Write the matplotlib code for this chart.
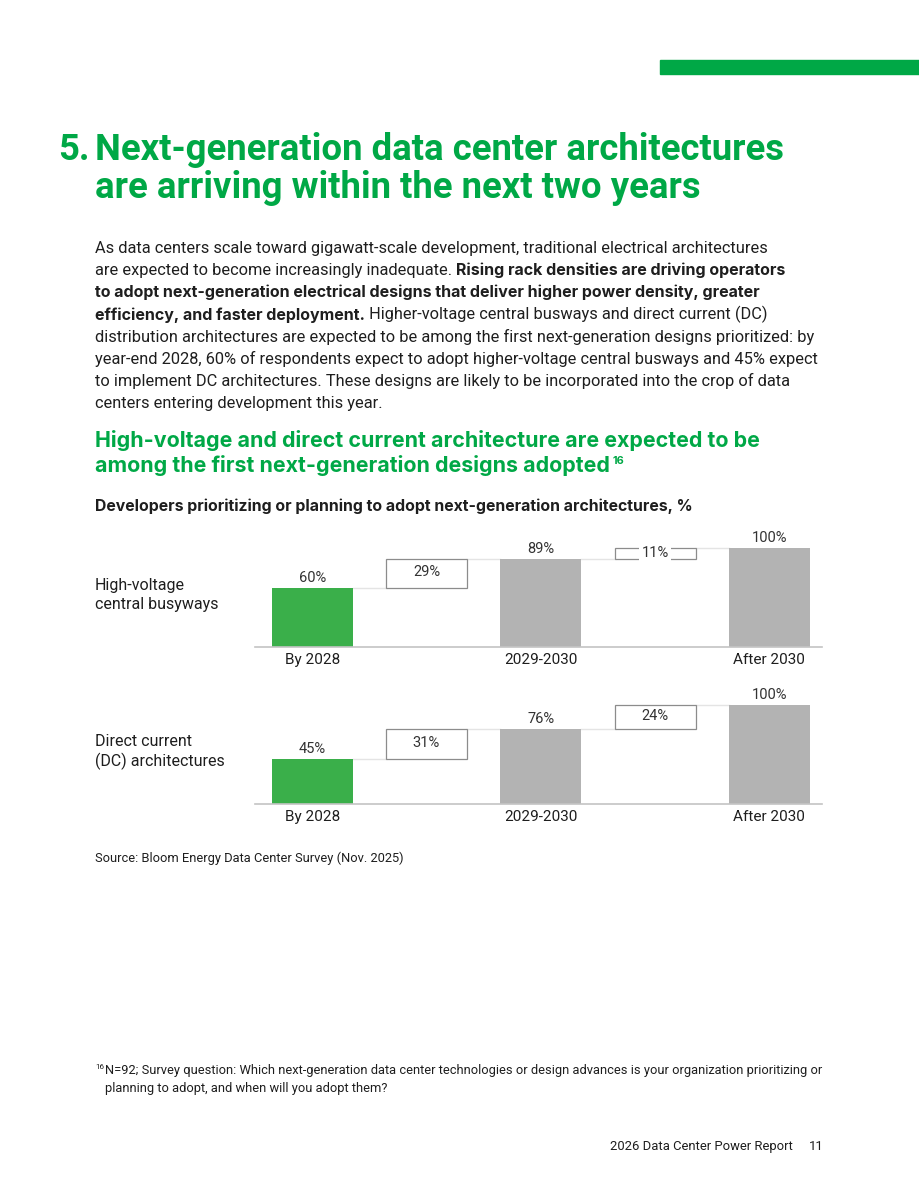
import matplotlib
matplotlib.use("Agg")
import matplotlib.pyplot as plt
from matplotlib.patches import Rectangle
from matplotlib.text import Annotation

plt.rcParams['font.family'] = ['Roboto', 'DejaVu Sans']

# ---- DATA
categories = ["By 2028", "2029-2030", "After 2030"]
row_labels = ["High-voltage\ncentral busyways", "Direct current\n(DC) architectures"]
hv_totals = [60, 89, 100]
dc_totals = [45, 76, 100]
hv_steps = [29, 11]
dc_steps = [31, 24]

GREEN = "#00a846"
BAR_GREEN = "#3aaf4a"
BAR_GRAY = "#b3b3b3"
TEXT = "#1e1e1e"
BOLD_FONT = ['Inter', 'DejaVu Sans']

W, H = 920, 1191
fig = plt.figure(figsize=(W / 100, H / 100), dpi=100)


def fx(px):
    return px / W


def fy(py):
    return 1 - py / H


# top right accent bar
fig.patches.append(Rectangle((fx(660), fy(74)), fx(920) - fx(660), 14 / H,
                             transform=fig.transFigure, color="#00a846", zorder=0))

# ---- TITLE
title_kw = dict(fontsize=26.3, fontweight="bold", color=GREEN, va="baseline")
fig.text(fx(58), fy(160), "5.", **title_kw)
fig.text(fx(95), fy(160), "Next-generation data center architectures", **title_kw)
fig.text(fx(95), fy(198), "are arriving within the next two years", **title_kw)

# ---- PARAGRAPH (segments: text, bold)
paragraph = [
    [("As data centers scale toward gigawatt-scale development, traditional electrical architectures", False)],
    [("are expected to become increasingly inadequate. ", False), ("Rising rack densities are driving operators", True)],
    [("to adopt next-generation electrical designs that deliver higher power density, greater", True)],
    [("efficiency, and faster deployment.", True), (" Higher-voltage central busways and direct current (DC)", False)],
    [("distribution architectures are expected to be among the first next-generation designs prioritized: by", False)],
    [("year-end 2028, 60% of respondents expect to adopt higher-voltage central busways and 45% expect", False)],
    [("to implement DC architectures. These designs are likely to be incorporated into the crop of data", False)],
    [("centers entering development this year.", False)],
]
y0 = 253
for i, line in enumerate(paragraph):
    last = None
    for seg, bold in line:
        if bold:
            kw = dict(fontsize=11.5, color=TEXT, fontweight="bold", family=BOLD_FONT)
        else:
            kw = dict(fontsize=11.75, color=TEXT)
        if last is None:
            last = fig.text(fx(95), fy(y0 + i * 22.2), seg, va="baseline", **kw)
        else:
            last = fig.add_artist(Annotation(seg, xy=(1, 0), xycoords=last,
                                             va="bottom", ha="left", **kw))

# ---- CHART SUBTITLE
sub_kw = dict(fontsize=15.4, fontweight="bold", color=GREEN, va="baseline", family=BOLD_FONT)
fig.text(fx(95), fy(447), "High-voltage and direct current architecture are expected to be", **sub_kw)
sub2 = fig.text(fx(95), fy(472), "among the first next-generation designs adopted", **sub_kw)
fig.add_artist(Annotation("16", xy=(1, 1), xycoords=sub2, xytext=(2, -1),
                          textcoords="offset points", va="top", ha="left",
                          fontsize=7.8, fontweight="bold", color=GREEN, family=BOLD_FONT))
fig.text(fx(95), fy(511), "Developers prioritizing or planning to adopt next-generation architectures, %",
         fontsize=11.4, fontweight="bold", color=TEXT, va="baseline", family=BOLD_FONT)


# ---- WATERFALL PANELS
def panel(baseline_px, totals, steps, label):
    left, right = 255, 822
    ax = fig.add_axes([fx(left), fy(baseline_px), (right - left) / W, 109 / H])
    ax.set_xlim(-0.5, 4.46)
    ax.set_ylim(0, 110)
    xs_bar = [0, 2, 4]
    colors = [BAR_GREEN, BAR_GRAY, BAR_GRAY]
    ax.bar(xs_bar, totals, width=0.71, color=colors, zorder=2)
    for x, v in zip(xs_bar, totals):
        ax.text(x, v + 3, f"{v}%", ha="center", va="bottom", fontsize=10.5, color="#333333")
    for k, s in enumerate(steps):
        x = 2 * k + 1
        base = totals[k]
        ax.bar(x, s, bottom=base, width=0.71, facecolor="white", edgecolor="#8c8c8c",
               linewidth=0.9, zorder=2)
        # connector lines
        ax.plot([x - 1 + 0.355, x - 0.355], [base, base], color="#e4e4e4", lw=1, zorder=1)
        ax.plot([x + 0.355, x + 1 - 0.355], [base + s, base + s], color="#e4e4e4", lw=1, zorder=1)
        if s < 15:
            ax.text(x, base + s / 2, f"{s}%", ha="center", va="center", fontsize=10.5,
                    color="#333333", zorder=3,
                    bbox=dict(facecolor="white", edgecolor="none", pad=1.5))
        else:
            ax.text(x, base + s / 2 + 1, f"{s}%", ha="center", va="center", fontsize=10.5,
                    color="#333333", zorder=3)
    ax.set_xticks(xs_bar)
    ax.set_xticklabels(categories, fontsize=11, color=TEXT)
    ax.tick_params(axis="x", length=0, pad=4)
    ax.set_yticks([])
    for sp in ["top", "right", "left"]:
        ax.spines[sp].set_visible(False)
    ax.spines["bottom"].set_color("#c4c4c4")
    ax.spines["bottom"].set_linewidth(1.2)
    ax.patch.set_alpha(0)
    fig.text(fx(95), fy(baseline_px - 52), label, fontsize=11.5, color=TEXT, va="center",
             linespacing=1.35)
    return ax


panel(647, hv_totals, hv_steps, row_labels[0])
panel(804, dc_totals, dc_steps, row_labels[1])

# ---- SOURCE / FOOTNOTES
fig.text(fx(95), fy(862), "Source: Bloom Energy Data Center Survey (Nov. 2025)",
         fontsize=9.25, color=TEXT, va="baseline")
fig.text(fx(95), fy(1069), "16", fontsize=5.8, color=TEXT, va="baseline")
fig.text(fx(105), fy(1074), "N=92; Survey question: Which next-generation data center technologies "
         "or design advances is your organization prioritizing or", fontsize=9.3, color=TEXT, va="baseline")
fig.text(fx(105), fy(1092), "planning to adopt, and when will you adopt them?", fontsize=9.3,
         color=TEXT, va="baseline")
fig.text(fx(793), fy(1150), "2026 Data Center Power Report", fontsize=9.4, color=TEXT,
         ha="right", va="baseline")
fig.text(fx(824), fy(1150), "11", fontsize=9.4, color=TEXT, ha="right", va="baseline")

fig.savefig("out.png", dpi=100, facecolor="white")
